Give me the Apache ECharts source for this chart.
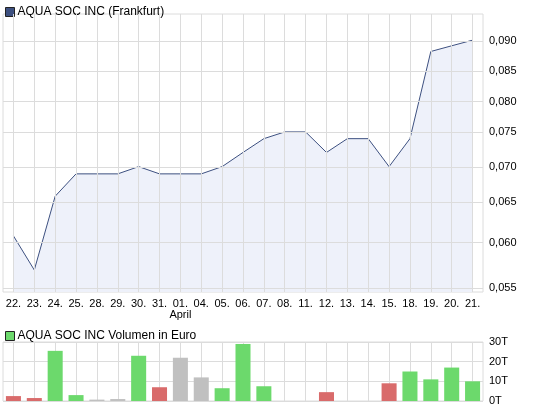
<!DOCTYPE html>
<html>
<head>
<meta charset="UTF-8">
<script src="https://cdn.jsdelivr.net/npm/echarts@6/dist/echarts.min.js"></script>
<style>
body{margin:0;background:#fff}
#main{width:545px;height:410px}
</style>
</head>
<body>
<div id="main"></div>
<script>
var dates = ['22.','23.','24.','25.','28.','29.','30.','31.','01.','04.','05.','06.','07.','08.','11.','12.','13.','14.','15.','18.','19.','20.','21.'];
var prices = [0.061,0.057,0.066,0.069,0.069,0.069,0.070,0.069,0.069,0.069,0.070,0.072,0.074,0.075,0.075,0.072,0.074,0.074,0.070,0.074,0.088,0.089,0.090];
var volumes = [2.5,1.5,25.5,3,0.7,1,23,7,22,12,6.5,29,7.5,0,0,4.5,0,0,9,15,11,17,10];
// 'u' = up, 'd' = down, 'n' = unchanged
var volKinds = ['d','d','u','u','n','n','u','d','n','n','u','u','u','n','n','d','n','n','d','u','u','u','u'];
var priceTicks = [0.055,0.060,0.065,0.070,0.075,0.080,0.085,0.090];
var volTicks = ['0T','10T','20T','30T'];

var kindColor = {u:'#6cd96c', d:'#d96b6b', n:'#c0c0c0'};
var font = 'Liberation Sans, Arial, sans-serif';
var gridCol = '#dcdcdc';

// price axis is logarithmic, plotted as ln(value)
var lnPrices = prices.map(function (v) { return Math.log(v); });
var yMin = Math.log(0.055) - 0.008;
var yMax = Math.log(0.090) + 0.052;

// vertical grid lines sit on the categories themselves
var vLines = dates.map(function (d) { return {xAxis: d, label: {show: false}}; });

var myChart = echarts.init(document.getElementById('main'));
var option = {
    animation: false,
    textStyle: {fontFamily: font},
    legend: [{
        left: 0, top: 1, itemWidth: 9, itemHeight: 9, itemGap: 4,
        icon: 'rect', data: ['AQUA SOC INC (Frankfurt)'],
        itemStyle: {borderColor: '#222', borderWidth: 1},
        textStyle: {fontSize: 12, color: '#000', fontFamily: font, padding: [0, 0, 0, -2]}
    }, {
        left: 0, top: 325, itemWidth: 9, itemHeight: 9, itemGap: 4,
        icon: 'rect', data: ['AQUA SOC INC Volumen in Euro'],
        itemStyle: {borderColor: '#222', borderWidth: 1},
        textStyle: {fontSize: 12, color: '#000', fontFamily: font, padding: [0, 0, 0, -2]}
    }],
    grid: [
        {left: 3, right: 62, top: 14, bottom: 118, show: true, borderColor: gridCol, borderWidth: 1},
        {left: 3, right: 62, top: 342, bottom: 9, show: true, borderColor: gridCol, borderWidth: 1}
    ],
    xAxis: [{
        type: 'category', gridIndex: 0, data: dates,
        axisLine: {show: false}, axisTick: {show: false},
        splitLine: {show: false},
        axisLabel: {
            interval: 0, color: '#000', fontSize: 11, margin: 6,
            formatter: function (v) { return v === '01.' ? v + '\nApril' : v; }
        }
    }, {
        type: 'category', gridIndex: 1, data: dates,
        axisLine: {show: false}, axisTick: {show: false},
        splitLine: {show: false},
        axisLabel: {show: false}
    }],
    yAxis: [{
        type: 'value', gridIndex: 0, position: 'right', min: yMin, max: yMax,
        axisLine: {show: false}, axisTick: {show: false},
        axisLabel: {show: false}, splitLine: {show: false}
    }, {
        type: 'value', gridIndex: 1, position: 'right', min: 0, max: 30, interval: 10,
        axisLine: {show: false}, axisTick: {show: false},
        splitLine: {lineStyle: {color: gridCol}},
        axisLabel: {
            color: '#000', fontSize: 11, margin: 6,
            formatter: function (v) { return volTicks[v / 10]; }
        }
    }],
    series: [{
        name: 'AQUA SOC INC (Frankfurt)', type: 'line', xAxisIndex: 0, yAxisIndex: 0,
        data: lnPrices, symbol: 'none', color: '#3d5080',
        lineStyle: {width: 1, color: '#3d5080'},
        areaStyle: {color: '#eef1fa', opacity: 1, origin: 'start'},
        markLine: {
            silent: true, symbol: 'none', animation: false,
            lineStyle: {color: gridCol, type: 'solid', width: 1},
            label: {
                position: 'end', color: '#000', fontSize: 11, distance: 6,
                formatter: function (p) { return p.name; }
            },
            data: priceTicks.map(function (t) {
                return {yAxis: Math.log(t), name: t.toFixed(3).replace('.', ',')};
            }).concat(vLines)
        },
        z: 3
    }, {
        name: 'AQUA SOC INC Volumen in Euro', type: 'bar', xAxisIndex: 1, yAxisIndex: 1,
        color: '#6cd96c', barWidth: '72%',
        data: volumes.map(function (v, i) {
            return {value: v, itemStyle: {color: kindColor[volKinds[i]]}};
        }),
        markLine: {
            silent: true, symbol: 'none', animation: false, z: 1,
            lineStyle: {color: gridCol, type: 'solid', width: 1},
            data: vLines
        }
    }]
};
myChart.setOption(option);
</script>
</body>
</html>
